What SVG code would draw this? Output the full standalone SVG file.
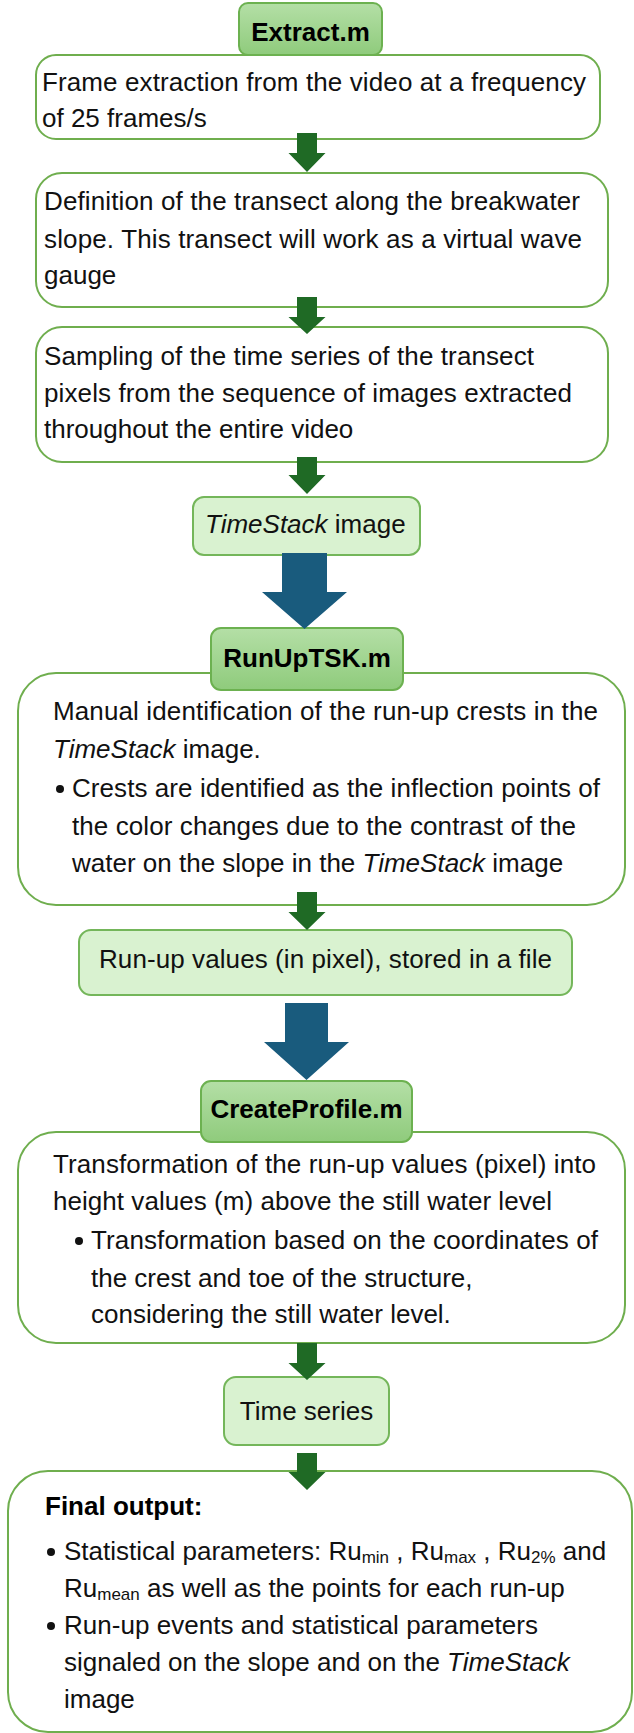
<svg xmlns="http://www.w3.org/2000/svg" width="634" height="1733" viewBox="0 0 634 1733">
  <defs>
    <linearGradient id="tabFill" x1="0" y1="0" x2="0" y2="1">
      <stop offset="0" stop-color="#b4dfa6"/>
      <stop offset="1" stop-color="#8fcb7c"/>
    </linearGradient>
    <style>
      .step { fill: #ffffff; stroke: #6fae4e; stroke-width: 2; }
      .result { fill: #d9f2d0; stroke: #74b65a; stroke-width: 2; }
      .tab { fill: url(#tabFill); stroke: #6cb150; stroke-width: 2; }
      .txt { font-family: "Liberation Sans", Arial, sans-serif; font-size: 26px; fill: #111111; }
      .bold { font-family: "Liberation Sans", Arial, sans-serif; font-size: 26px; font-weight: bold; fill: #000000; }
      .it { font-style: italic; }
      .sub { font-size: 17px; }
      .bullet { fill: #111111; }
      .arrow-green { fill: #1f6a25; }
      .arrow-blue { fill: #195b7d; }
    </style>
  </defs>

  <!-- Extract.m stage -->
  <g id="frame-extraction">
    <rect class="step" x="36" y="55" width="564" height="84" rx="20"/>
    <text class="txt" x="42" y="91" textLength="544" lengthAdjust="spacing">Frame extraction from the video at a frequency</text>
    <text class="txt" x="42" y="127">of 25 frames/s</text>
  </g>
  <g id="extract-tab">
    <rect class="tab" x="239" y="3" width="143" height="52" rx="9"/>
    <text class="bold" x="310.5" y="41" text-anchor="middle">Extract.m</text>
  </g>

  <g id="transect-definition">
    <rect class="step" x="36" y="173" width="572" height="134" rx="26"/>
    <text class="txt" x="44" y="210" textLength="536" lengthAdjust="spacing">Definition of the transect along the breakwater</text>
    <text class="txt" x="44" y="248" textLength="538" lengthAdjust="spacing">slope. This transect will work as a virtual wave</text>
    <text class="txt" x="44" y="284">gauge</text>
  </g>

  <g id="pixel-sampling">
    <rect class="step" x="36" y="327" width="572" height="135" rx="26"/>
    <text class="txt" x="44" y="365" textLength="490" lengthAdjust="spacing">Sampling of the time series of the transect</text>
    <text class="txt" x="44" y="402" textLength="528" lengthAdjust="spacing">pixels from the sequence of images extracted</text>
    <text class="txt" x="44" y="438">throughout the entire video</text>
  </g>

  <g id="timestack-image">
    <rect class="result" x="193" y="497" width="227" height="58" rx="11"/>
    <text class="txt" x="205" y="533"><tspan class="it">TimeStack</tspan> image</text>
  </g>

  <!-- RunUpTSK.m stage -->
  <g id="crest-identification">
    <rect class="step" x="18" y="673" width="607" height="232" rx="38"/>
    <text class="txt" x="53" y="720" textLength="545" lengthAdjust="spacing">Manual identification of the run-up crests in the</text>
    <text class="txt" x="53" y="758"><tspan class="it">TimeStack</tspan> image.</text>
    <circle class="bullet" cx="60" cy="789" r="4"/>
    <text class="txt" x="72" y="797" textLength="528" lengthAdjust="spacing">Crests are identified as the inflection points of</text>
    <text class="txt" x="72" y="835" textLength="504" lengthAdjust="spacing">the color changes due to the contrast of the</text>
    <text class="txt" x="72" y="872">water on the slope in the <tspan class="it">TimeStack</tspan> image</text>
  </g>
  <g id="runuptsk-tab">
    <rect class="tab" x="211" y="628" width="192" height="62" rx="10"/>
    <text class="bold" x="307" y="667" text-anchor="middle">RunUpTSK.m</text>
  </g>

  <g id="runup-pixel-values">
    <rect class="result" x="79" y="930" width="493" height="65" rx="12"/>
    <text class="txt" x="99" y="968" textLength="453" lengthAdjust="spacing">Run-up values (in pixel), stored in a file</text>
  </g>

  <!-- CreateProfile.m stage -->
  <g id="height-transformation">
    <rect class="step" x="18" y="1132" width="607" height="211" rx="38"/>
    <text class="txt" x="53" y="1173" textLength="543" lengthAdjust="spacing">Transformation of the run-up values (pixel) into</text>
    <text class="txt" x="53" y="1210" textLength="499" lengthAdjust="spacing">height values (m) above the still water level</text>
    <circle class="bullet" cx="79" cy="1241" r="4"/>
    <text class="txt" x="91" y="1249" textLength="507" lengthAdjust="spacing">Transformation based on the coordinates of</text>
    <text class="txt" x="91" y="1287">the crest and toe of the structure,</text>
    <text class="txt" x="91" y="1323">considering the still water level.</text>
  </g>
  <g id="createprofile-tab">
    <rect class="tab" x="201" y="1081" width="211" height="61" rx="10"/>
    <text class="bold" x="306.5" y="1118" text-anchor="middle">CreateProfile.m</text>
  </g>

  <g id="time-series">
    <rect class="result" x="224" y="1377" width="165" height="68" rx="12"/>
    <text class="txt" x="306.5" y="1420" text-anchor="middle">Time series</text>
  </g>

  <g id="final-output">
    <rect class="step" x="8" y="1471" width="624" height="261" rx="40"/>
    <text class="bold" x="45" y="1515">Final output:</text>
    <circle class="bullet" cx="51" cy="1552" r="4"/>
    <text class="txt" x="64" y="1560">Statistical parameters: Ru<tspan class="sub" dy="3">min</tspan><tspan dy="-3"> , Ru</tspan><tspan class="sub" dy="3">max</tspan><tspan dy="-3"> , Ru</tspan><tspan class="sub" dy="3">2%</tspan><tspan dy="-3"> and</tspan></text>
    <text class="txt" x="64" y="1597">Ru<tspan class="sub" dy="3">mean</tspan><tspan dy="-3"> as well as the points for each run-up</tspan></text>
    <circle class="bullet" cx="51" cy="1626" r="4"/>
    <text class="txt" x="64" y="1634" textLength="474" lengthAdjust="spacing">Run-up events and statistical parameters</text>
    <text class="txt" x="64" y="1671">signaled on the slope and on the <tspan class="it">TimeStack</tspan></text>
    <text class="txt" x="64" y="1708">image</text>
  </g>

  <!-- Block arrows between stages -->
  <g id="connectors">
    <polygon class="arrow-green" points="297,133 317,133 317,153 325.5,153 307,172 288.5,153 297,153"/>
    <polygon class="arrow-green" points="297,297 317,297 317,317 325.5,317 307,334 288.5,317 297,317"/>
    <polygon class="arrow-green" points="297,457 317,457 317,475 325.5,475 307,494 288.5,475 297,475"/>
    <polygon class="arrow-blue" points="282,553 327,553 327,592 347,592 304.5,629 262,592 282,592"/>
    <polygon class="arrow-green" points="297,892 317,892 317,912 325.5,912 307,930 288.5,912 297,912"/>
    <polygon class="arrow-blue" points="285,1003 328,1003 328,1042 349,1042 306.5,1080 264,1042 285,1042"/>
    <polygon class="arrow-green" points="297,1343 317,1343 317,1363 325.5,1363 307,1380 288.5,1363 297,1363"/>
    <polygon class="arrow-green" points="297,1453 317,1453 317,1472 325.5,1472 307,1490 288.5,1472 297,1472"/>
  </g>
</svg>
